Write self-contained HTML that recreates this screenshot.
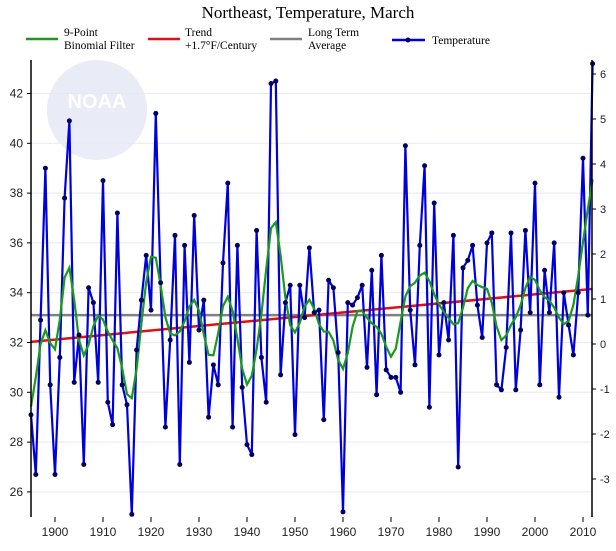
<!DOCTYPE html>
<html><head><meta charset="utf-8"><style>
body{margin:0;background:#fff;width:616px;height:546px;overflow:hidden}
svg text{font-family:"Liberation Sans",sans-serif}
.serif{font-family:"Liberation Serif",serif}
</style></head><body>
<svg id="chart" width="616" height="546">
<text class="serif" x="308" y="18" text-anchor="middle" font-size="17">Northeast, Temperature, March</text>
<g class="serif" font-size="11.5">
<line x1="26" y1="39" x2="58" y2="39" stroke="#1a9a1a" stroke-width="2.5"/>
<text class="serif" x="64" y="36">9-Point</text>
<text class="serif" x="64" y="49">Binomial Filter</text>
<line x1="148" y1="39" x2="180" y2="39" stroke="#e01010" stroke-width="2.5"/>
<text class="serif" x="185" y="36">Trend</text>
<text class="serif" x="185" y="49">+1.7°F/Century</text>
<line x1="270" y1="39" x2="302" y2="39" stroke="#808080" stroke-width="2.5"/>
<text class="serif" x="308" y="36">Long Term</text>
<text class="serif" x="308" y="49">Average</text>
<line x1="392" y1="40" x2="425" y2="40" stroke="#0000dd" stroke-width="2.5"/>
<circle cx="408" cy="40" r="2.5" fill="#000060"/>
<text class="serif" x="432" y="44">Temperature</text>
</g>
<g opacity="0.12">
<circle cx="97" cy="110" r="50" fill="#5060c0"/>
<text x="97" y="108" text-anchor="middle" font-size="20" font-weight="bold" fill="#fff">NOAA</text>
</g>
<g id="grid"></g><g id="series"></g><g id="axes"></g>
</svg>
<script>
const years=[];for(let y=1895;y<=2012;y++)years.push(y);
const temps=[29.1,26.7,32.9,39.0,30.3,26.7,31.4,37.8,40.9,30.4,32.3,27.1,34.2,33.6,30.4,38.5,29.6,28.7,37.2,30.3,
29.5,25.1,31.7,33.7,35.5,33.3,41.2,34.4,28.6,32.1,36.3,27.1,35.9,31.2,37.1,32.5,33.7,29.0,31.1,30.3,
35.2,38.4,28.6,35.9,30.2,27.9,27.5,36.5,31.4,29.6,42.4,42.5,30.7,33.6,34.3,28.3,34.3,33.0,35.8,33.2,
33.3,28.9,34.5,34.2,31.6,25.2,33.6,33.5,33.8,34.3,31.0,34.9,29.9,35.5,30.9,30.6,30.6,30.0,39.9,33.3,
31.1,35.9,39.1,29.4,37.6,31.5,33.6,32.1,36.3,27.0,35.0,35.3,35.9,33.5,32.2,36.0,36.4,30.3,30.1,31.8,
36.4,30.1,32.5,36.5,33.2,38.4,30.3,34.9,33.2,36.0,29.8,34.0,32.7,31.5,34.0,39.4,33.1,43.2];
const longTermAvg=33.1;
const leftTicks=[26,28,30,32,34,36,38,40,42];
const rightTicks=[-3,-2,-1,0,1,2,3,4,5,6];
const xTicks=[1900,1910,1920,1930,1940,1950,1960,1970,1980,1990,2000,2010];
const NS='http://www.w3.org/2000/svg';
const X0=31,X1=592,Y0=60,Y1=517;
const xs=y=>31+(y-1895)*4.8;
const ys=v=>93.5+(42-v)*24.9;
const yr=a=>344-a*45;
function mk(tag,attrs,parent){const e=document.createElementNS(NS,tag);for(const k in attrs)e.setAttribute(k,attrs[k]);parent.appendChild(e);return e;}
const grid=document.getElementById('grid'),series=document.getElementById('series'),axes=document.getElementById('axes');
leftTicks.forEach(t=>{
 const l=mk('line',{x1:X0,x2:X1,y1:ys(t),y2:ys(t),stroke:'#e8e8f0','stroke-width':1},grid);
 
 
 mk('line',{x1:X0-4,x2:X0,y1:ys(t),y2:ys(t),stroke:'#000'},axes);
 const tx=mk('text',{x:X0-8,y:ys(t)+4,'text-anchor':'end','font-size':12,fill:'#222'},axes);tx.textContent=t;
 
 
});
rightTicks.forEach(t=>{
 mk('line',{x1:X1,x2:X1+4,y1:yr(t),y2:yr(t),stroke:'#000'},axes);
 const tx=mk('text',{x:X1+8,y:yr(t)+4,'font-size':11,fill:'#222'},axes);tx.textContent=t;
 
 
});
xTicks.forEach(t=>{
 mk('line',{x1:xs(t),x2:xs(t),y1:Y1,y2:Y1+5,stroke:'#000'},axes);
 const tx=mk('text',{x:xs(t),y:Y1+19,'text-anchor':'middle','font-size':12,fill:'#222'},axes);tx.textContent=t;
 
 
});
const la=mk('line',{x1:X0,x2:X0,y1:Y0,y2:Y1,stroke:'#000','stroke-width':1.5},axes);

const ra=mk('line',{x1:X1,x2:X1,y1:Y0,y2:Y1,stroke:'#000','stroke-width':1.5},axes);

// average
const avg=mk('line',{x1:X0,x2:X1,y1:ys(longTermAvg),y2:ys(longTermAvg),stroke:'#808080','stroke-width':2.5},series);


// trend (least squares)
const n=years.length,mx=years.reduce((a,b)=>a+b)/n,my=temps.reduce((a,b)=>a+b)/n;
let sxy=0,sxx=0;years.forEach((y,i)=>{sxy+=(y-mx)*(temps[i]-my);sxx+=(y-mx)*(y-mx);});
const slope=sxy/sxx,tr=y=>my+slope*(y-mx);
const trend=mk('line',{x1:xs(years[0]),x2:xs(years[n-1]),y1:ys(tr(years[0])),y2:ys(tr(years[n-1])),stroke:'#e01010','stroke-width':2.5},series);


// temperature line
const tl=mk('polyline',{points:years.map((y,i)=>xs(y)+','+ys(temps[i])).join(' '),fill:'none',stroke:'#0000dd','stroke-width':2.2,'stroke-linejoin':'round'},series);


// binomial filter
const w=[1,8,28,56,70,56,28,8,1];
const filt=temps.map((_,i)=>{let s=0,ws=0;for(let k=-4;k<=4;k++){const j=i+k;if(j>=0&&j<n){s+=temps[j]*w[k+4];ws+=w[k+4];}}return s/ws;});
const fl=mk('polyline',{points:years.map((y,i)=>xs(y)+','+ys(filt[i])).join(' '),fill:'none',stroke:'#1a9a1a','stroke-width':2.2},series);


years.forEach((y,i)=>{
 const c=mk('circle',{cx:xs(y),cy:ys(temps[i]),r:2.5,fill:'#000060'},series);
 
 
});
</script>
</body></html>
